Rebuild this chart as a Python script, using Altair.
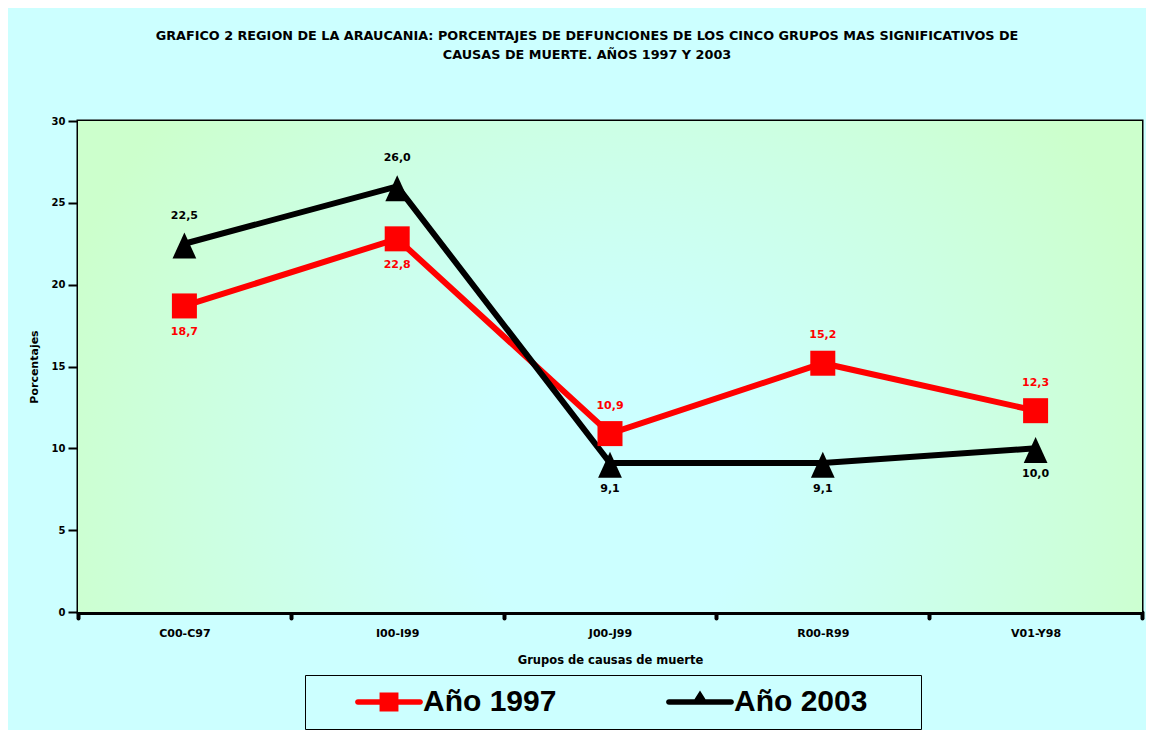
import altair as alt
import pandas as pd

categorias = ["C00-C97", "I00-I99", "J00-J99", "R00-R99", "V01-Y98"]
valores_1997 = [18.7, 22.8, 10.9, 15.2, 12.3]
valores_2003 = [22.5, 26.0, 9.1, 9.1, 10.0]
series = ["Año 1997", "Año 2003"]
colores = ["#FF0000", "#000000"]
ticks_y = [0, 5, 10, 15, 20, 25, 30]

filas = []
for serie, vals in zip(series, [valores_1997, valores_2003]):
    for cat, v in zip(categorias, vals):
        filas.append({"categoria": cat, "serie": serie, "valor": v})
df = pd.DataFrame(filas)

FONT = "DejaVu Sans"

# marker shapes (unit space of the symbol)
TRI = "M0,-0.9L0.95,1.18L-0.95,1.18Z"
# legend symbols: line + marker (with tiny anchor dots for legend box spacing)
LEG_1997 = ("M-4.8,0h0.004v0.004h-0.004Z "
            "M-2.07,-0.19H2.07A0.19,0.19 0 0 1 2.07,0.19H-2.07A0.19,0.19 0 0 1 -2.07,-0.19Z "
            "M-0.63,-0.63H0.63V0.63H-0.63Z")
LEG_2003 = ("M-4.8,0h0.004v0.004h-0.004Z "
            "M-2.07,-0.19H2.07A0.19,0.19 0 0 1 2.07,0.19H-2.07A0.19,0.19 0 0 1 -2.07,-0.19Z "
            "M0,-0.77L0.6,0.19L-0.6,0.19Z "
            "M13.9,0h0.004v0.004h-0.004Z")

legend = alt.Legend(
    orient="none", legendX=227, legendY=554, direction="horizontal", title=None,
    labelFont="Liberation Sans", labelFontSize=30, labelFontWeight="bold", labelColor="#000000",
    labelOffset=19, symbolSize=900, symbolStrokeWidth=0, symbolOffset=57, columnPadding=71,
    padding=12, strokeColor="#000000", fillColor="#CCFFFF", labelLimit=400,
    symbolOpacity=1,
    symbolType={"expr": f"datum.value === '{series[0]}' ? '{LEG_1997}' : '{LEG_2003}'"},
)

x_enc = alt.X(
    "categoria:N", sort=categorias,
    scale=alt.Scale(type="band", paddingInner=0, paddingOuter=0),
    axis=alt.Axis(
        title="Grupos de causas de muerte", labelAngle=0, tickBand="extent",
        domainColor="#000000", domainWidth=5, tickColor="#000000", tickWidth=4,
        tickSize=6, tickCap="round", labelFont=FONT, labelFontSize=11,
        labelFontWeight="bold", labelColor="#000000", labelPadding=9,
        titleFont=FONT, titleFontSize=11.5, titleFontWeight="bold", titleColor="#000000",
        titlePadding=16, grid=False,
    ),
)
y_enc = alt.Y(
    "valor:Q", scale=alt.Scale(domain=[0, 30], nice=False, zero=True),
    axis=alt.Axis(
        values=ticks_y, title="Porcentajes", grid=True, gridColor="#000000", gridWidth=2,
        domainColor="#000000", domainWidth=2, tickColor="#000000", tickWidth=2,
        tickSize=10, labelPadding=3, labelFont=FONT, labelFontSize=10,
        labelFontWeight="bold", labelColor="#000000",
        titleFont=FONT, titleFontSize=11, titleFontWeight="bold", titleColor="#000000",
        titlePadding=12,
    ),
)
color_scale = alt.Scale(domain=series, range=colores)
color_enc = alt.Color("serie:N", scale=color_scale, legend=legend)

fondo = alt.Chart(pd.DataFrame({"fondo": [0]})).mark_rect(
    fill={
        "gradient": "radial",
        "x1": 0.5, "y1": 0.62, "r1": 0,
        "x2": 0.5, "y2": 0.62, "r2": 0.55,
        "stops": [
            {"offset": 0, "color": "#CCFFFF"},
            {"offset": 0.25, "color": "#CCFFFF"},
            {"offset": 1, "color": "#CCFFCC"},
        ],
    },
).encode(
    x=alt.value(0), x2=alt.value({"expr": "width"}),
    y=alt.value(0), y2=alt.value({"expr": "height"}),
)

base = alt.Chart(df).encode(x=x_enc, y=y_enc)

# invisible point layer that carries the (filled) legend symbols
leyenda = base.mark_point(filled=True, size=625, opacity=0, strokeWidth=0).encode(color=color_enc)
lineas = base.mark_line(strokeWidth=6).encode(color=color_enc)
puntos_1997 = base.transform_filter(f"datum.serie === '{series[0]}'").mark_point(
    filled=True, size=625, opacity=1, strokeWidth=0, shape="square"
).encode(color=color_enc)
puntos_2003 = base.transform_filter(f"datum.serie === '{series[1]}'").mark_point(
    filled=True, size=625, opacity=1, strokeWidth=0, shape=TRI
).encode(color=color_enc)

etq = base.transform_joinaggregate(
    maximo="max(valor)", groupby=["categoria"]
).transform_calculate(
    etiqueta="replace(format(datum.valor, '.1f'), '.', ',')"
)
fill_enc = alt.Fill("serie:N", scale=alt.Scale(domain=series, range=colores), legend=None)
arriba = etq.transform_filter("datum.valor === datum.maximo").mark_text(
    font=FONT, fontSize=11, fontWeight="bold", dy=-28, baseline="middle"
).encode(text="etiqueta:N", fill=fill_enc)
abajo = etq.transform_filter("datum.valor !== datum.maximo").mark_text(
    font=FONT, fontSize=11, fontWeight="bold", dy=26, baseline="middle"
).encode(text="etiqueta:N", fill=fill_enc)

chart = alt.layer(fondo, leyenda, lineas, puntos_1997, puntos_2003, arriba, abajo).properties(
    width=1064, height=491,
    autosize=alt.AutoSizeParams(type="none"),
    padding={"left": 70, "top": 113, "right": 4, "bottom": 118},
    background="#CCFFFF",
    title=alt.Title(
        ["GRAFICO 2 REGION DE LA ARAUCANIA: PORCENTAJES DE DEFUNCIONES DE LOS CINCO GRUPOS MAS SIGNIFICATIVOS DE",
         "CAUSAS DE MUERTE. AÑOS 1997 Y 2003"],
        font=FONT, fontSize=12.8, fontWeight="bold", color="#000000",
        lineHeight=19, anchor="middle", frame="group", dx=-23, offset=54,
    ),
).configure_view(stroke="#000000", strokeWidth=3)

chart.save("out.html", embed_options={"renderer": "svg", "actions": False})
